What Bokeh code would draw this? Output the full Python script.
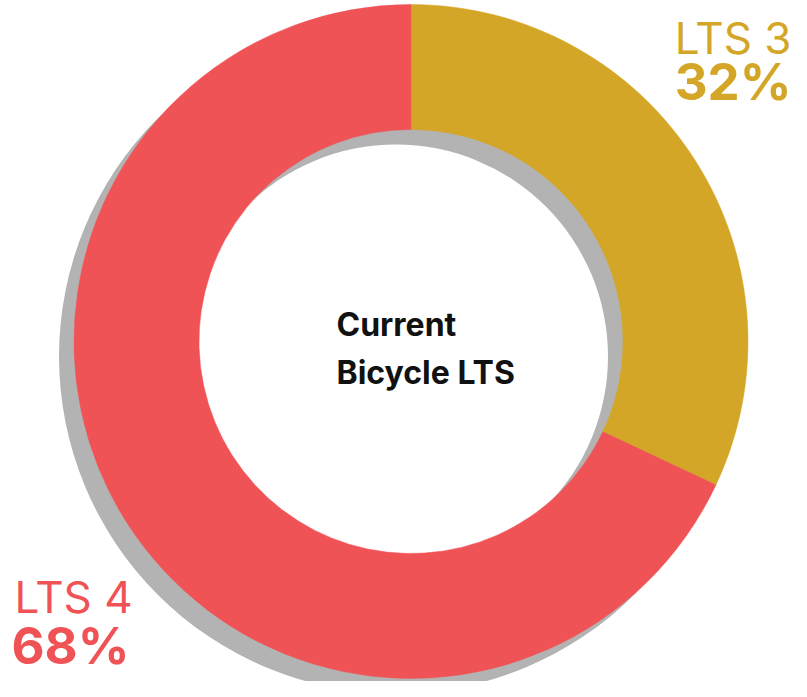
import math
from bokeh.plotting import figure
from bokeh.models import Range1d, ColumnDataSource
from bokeh.core.properties import value
from bokeh.embed import file_html
from bokeh.resources import INLINE

# data
labels = ["LTS 3", "LTS 4"]
percents = [32, 68]
colors = ["#D4A627", "#F05356"]
center_title = ["Current", "Bicycle LTS"]

W, H = 791, 681
p = figure(width=W, height=H, output_backend="svg", toolbar_location=None,
           x_range=Range1d(0, W), y_range=Range1d(697 - H, 697),
           min_border=0, outline_line_color=None)
p.axis.visible = False
p.grid.visible = False
p.background_fill_color = "white"

def Y(sy, size=0):
    # screen y (baseline) -> data y, compensating the rendered baseline offset
    return 697 - sy + 0.43 * size

cx, cy = 410.5, 697 - 341
r_out, r_in = 337, 212

# shadow
p.annulus(x=[cx - 15], y=[cy - 15], inner_radius=r_in, outer_radius=r_out,
          fill_color="#B2B3B2", line_color=None)

# wedges
total = sum(percents)
starts, ends = [], []
acc = 0.0
for v in percents:
    a0 = math.pi / 2 - 2 * math.pi * acc / total
    acc += v
    a1 = math.pi / 2 - 2 * math.pi * acc / total
    starts.append(a0)
    ends.append(a1)

src = ColumnDataSource(dict(x=[cx] * len(percents), y=[cy] * len(percents),
                            start=starts, end=ends, color=colors))
p.annular_wedge(x="x", y="y", inner_radius=r_in, outer_radius=r_out,
                start_angle="start", end_angle="end", direction="clock",
                fill_color="color", line_color="color", line_width=0.5, source=src)

font = value("Inter")
LS, PS, CS = 44, 51, 32
# LTS 3 label (top right, right aligned)
p.text(x=[791], y=[Y(56, LS)], text=[labels[0]], text_font=font, text_font_size=f"{LS}px",
       text_color=colors[0], text_align="right", text_baseline="alphabetic")
p.text(x=[791], y=[Y(103, PS)], text=[f"{percents[0]}%"], text_font=font,
       text_font_size=f"{PS}px", text_font_style="bold",
       text_color=colors[0], text_align="right", text_baseline="alphabetic")
# LTS 4 label (bottom left)
p.text(x=[14], y=[Y(615, LS)], text=[labels[1]], text_font=font, text_font_size=f"{LS}px",
       text_color=colors[1], text_align="left", text_baseline="alphabetic")
p.text(x=[11], y=[Y(667, PS)], text=[f"{percents[1]}%"], text_font=font,
       text_font_size=f"{PS}px", text_font_style="bold",
       text_color=colors[1], text_align="left", text_baseline="alphabetic")

# center title
p.text(x=[336, 336], y=[Y(338, CS), Y(386, CS)], text=center_title, text_font=font,
       text_font_size=f"{CS}px", text_font_style="bold", text_color="#111111",
       text_align="left", text_baseline="alphabetic")

open("out.html", "w").write(file_html(p, INLINE))
